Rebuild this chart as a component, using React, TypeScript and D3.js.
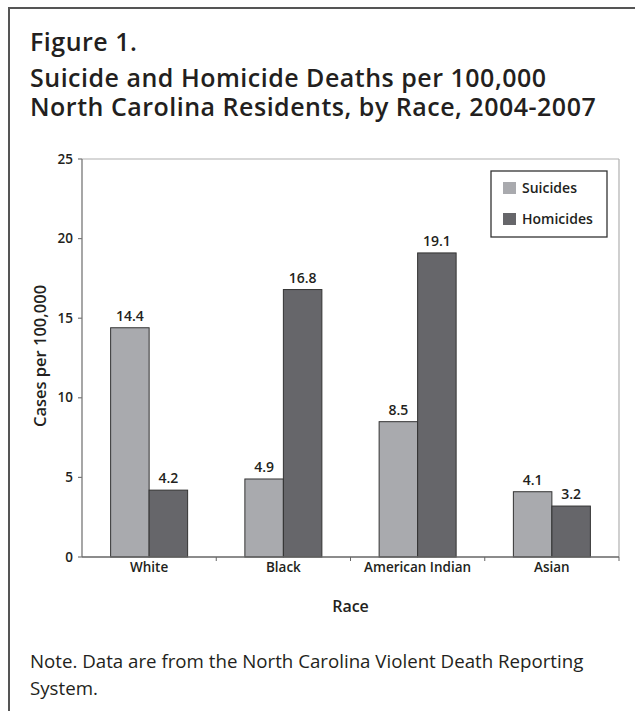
import React from 'react';
import * as d3 from 'd3';

const races = ['White', 'Black', 'American Indian', 'Asian'];
const suicides = [14.4, 4.9, 8.5, 4.1];
const homicides = [4.2, 16.8, 19.1, 3.2];
const seriesNames = ['Suicides', 'Homicides'];
const yTicks = [0, 5, 10, 15, 20, 25];

const W = 635;
const H = 711;
const left = 82;
const right = 619;
const top = 159;
const bottom = 557;
const font = '"Open Sans", Lato, sans-serif';
const ink = '#231f20';
const colors = ['#a9aaae', '#66666a'];

const App: React.FC = () => {
    const y = d3.scaleLinear().domain([0, 25]).range([bottom, top]);
    const x = d3.scaleBand<string>().domain(races).range([left, right]);
    const inner = d3.scaleBand<number>().domain([0, 1]).range([0, 77]);
    const barOffset = (x.bandwidth() - 77) / 2;
    const series = [suicides, homicides];

    return (
        <svg width={W} height={H} style={{ position: 'absolute', left: 0, top: 0, background: 'white' }}>
            {/* frame */}
            <rect x={9} y={8} width={W + 10} height={H + 10} fill="none" stroke="#555" strokeWidth={2} />

            <g fontFamily={font} fontWeight={600} fontSize={25} fill={ink} letterSpacing={0.5}>
                <text x={30} y={51}>Figure 1.</text>
                <text x={30} y={87}>Suicide and Homicide Deaths per 100,000</text>
                <text x={30} y={116}>North Carolina Residents, by Race, 2004-2007</text>
            </g>

            {/* plot border */}
            <line x1={left} x2={right} y1={top} y2={top} stroke="#b0b0b0" strokeWidth={1.2} />
            <line x1={right} x2={right} y1={top} y2={bottom} stroke="#b0b0b0" strokeWidth={1.2} />

            {/* y axis */}
            <line x1={left} x2={left} y1={top} y2={bottom} stroke="#777" strokeWidth={1.3} />
            {yTicks.map(t => (
                <g key={t}>
                    <line x1={left - 4} x2={left} y1={y(t)} y2={y(t)} stroke="#777" strokeWidth={1.2} />
                    <text x={left - 9} y={y(t) + 4.5} textAnchor="end" fontFamily={font} fontWeight={600}
                        fontSize={13.5} fill={ink}>{t}</text>
                </g>
            ))}

            {/* bars */}
            {races.map((r, i) => (
                <g key={r}>
                    {series.map((s, j) => {
                        const bx = (x(r) as number) + barOffset + (inner(j) as number);
                        return (
                            <g key={j}>
                                <rect x={bx} y={y(s[i])} width={inner.bandwidth()} height={bottom - y(s[i])}
                                    fill={colors[j]} stroke="#333" strokeWidth={1} />
                                <text x={bx + inner.bandwidth() / 2} y={y(s[i]) - 7} textAnchor="middle"
                                    fontFamily={font} fontWeight={600} fontSize={14} fill={ink}>{s[i].toFixed(1)}</text>
                            </g>
                        );
                    })}
                </g>
            ))}

            {/* x axis */}
            <line x1={left} x2={right} y1={bottom} y2={bottom} stroke="#666" strokeWidth={1.6} />
            {races.map(r => (
                <line key={r} x1={(x(r) as number) + x.bandwidth()} x2={(x(r) as number) + x.bandwidth()}
                    y1={bottom} y2={bottom + 4} stroke="#666" strokeWidth={1} />
            ))}
            {races.map(r => (
                <text key={r} x={(x(r) as number) + x.bandwidth() / 2} y={572} textAnchor="middle"
                    fontFamily={font} fontWeight={600} fontSize={13.5} fill={ink}>{r}</text>
            ))}

            <text x={(left + right) / 2} y={612} textAnchor="middle" fontFamily={font} fontWeight={600}
                fontSize={16} fill={ink}>Race</text>
            <text transform="translate(46,356) rotate(-90)" textAnchor="middle" fontFamily={font} fontWeight={600}
                fontSize={16.5} fill={ink}>Cases per 100,000</text>

            {/* legend */}
            <rect x={491} y={171} width={116} height={66} fill="white" stroke="#333" strokeWidth={1.3} />
            {seriesNames.map((n, j) => (
                <g key={n}>
                    <rect x={503} y={182 + j * 31} width={13} height={12} fill={colors[j]} />
                    <text x={522} y={193 + j * 31} fontFamily={font} fontWeight={600} fontSize={14}
                        fill={ink}>{n}</text>
                </g>
            ))}

            <g fontFamily={font} fontSize={18.7} fill={ink}>
                <text x={30} y={668}>Note. Data are from the North Carolina Violent Death Reporting</text>
                <text x={30} y={695}>System.</text>
            </g>
        </svg>
    );
};

export default App;
